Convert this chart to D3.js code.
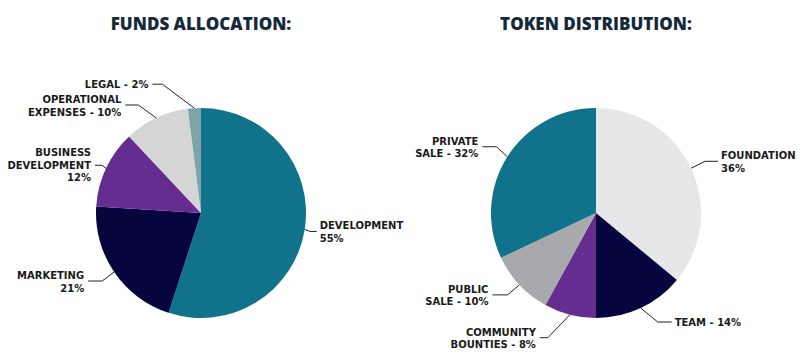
<!DOCTYPE html>
<html><head><meta charset="utf-8">
<script src="https://cdn.jsdelivr.net/npm/d3@7"></script>
<style>
html,body{margin:0;padding:0;background:#fff;}
svg{display:block;}
</style></head>
<body><svg id="chart" width="810" height="358"></svg>
<script>
// ---- data ----
const fundsTitle = "FUNDS ALLOCATION:";
const fundsCategories = ["Development", "Marketing", "Business Development", "Operational Expenses", "Legal"];
const fundsValues = [55, 21, 12, 10, 2];
const fundsLabelLines = [["DEVELOPMENT", "{v}%"], ["MARKETING", "{v}%"], ["BUSINESS", "DEVELOPMENT", "{v}%"], ["OPERATIONAL", "EXPENSES - {v}%"], ["LEGAL - {v}%"]];

const tokenTitle = "TOKEN DISTRIBUTION:";
const tokenCategories = ["Foundation", "Team", "Community Bounties", "Public Sale", "Private Sale"];
const tokenValues = [36, 14, 8, 10, 32];
const tokenLabelLines = [["FOUNDATION", "{v}%"], ["TEAM - {v}%"], ["COMMUNITY", "BOUNTIES - {v}%"], ["PUBLIC", "SALE - {v}%"], ["PRIVATE", "SALE - {v}%"]];

// ---- styling / layout ----
const fundsColors = ["#11728c", "#07053e", "#652d90", "#d5d5d5", "#7ea4a9"];
const tokenColors = ["#e6e7e8", "#07053e", "#652d90", "#a7a9ac", "#11728c"];
// leader layout: elbow offset from slice edge point, horizontal run length (signed)
const fundsLeader = [
  {ex: 5, ey: 2, h: 7}, {ex: -12, ey: 9, h: -14}, {ex: -4, ey: -3, h: -7},
  {ex: -18, ey: -13, h: -13}, {ex: -32, ey: -24, h: -10}
];
const tokenLeader = [
  {ex: 14, ey: -7, h: 13}, {ex: 17, ey: 14, h: 14}, {ex: -22, ey: 23, h: -8},
  {ex: -12, ey: 10, h: -15}, {ex: -11, ey: -10, h: -14}
];

const svg = d3.select("#chart");
const R = 105;
const lineH = 12.5;

function drawPie(cx, cy, title, cats, vals, lines, colors, leader) {
  const g = svg.append("g").attr("transform", `translate(${cx},${cy})`);
  svg.append("text").attr("x", cx).attr("y", 30).attr("text-anchor", "middle")
    .attr("font-family", "'Open Sans', sans-serif").attr("font-weight", 800)
    .attr("font-size", 17).attr("fill", "#15293a").text(title);

  const data = cats.map((c, i) => ({name: c, value: vals[i], lines: lines[i], color: colors[i], lay: leader[i]}));
  const pie = d3.pie().sort(null).value(d => d.value);
  const arc = d3.arc().innerRadius(0).outerRadius(R);
  const arcs = pie(data);

  g.selectAll("path.slice").data(arcs).join("path").attr("class", "slice")
    .attr("d", arc).attr("fill", d => d.data.color);

  arcs.forEach(a => {
    const mid = (a.startAngle + a.endAngle) / 2;
    const p0 = [R * Math.sin(mid), -R * Math.cos(mid)];
    const L = a.data.lay;
    const p1 = [p0[0] + L.ex, p0[1] + L.ey];
    const p2 = [p1[0] + L.h, p1[1]];
    g.append("path").attr("d", d3.line()([p0, p1, p2]))
      .attr("fill", "none").attr("stroke", "#222").attr("stroke-width", 1);
    const right = L.h > 0;
    const tx = p2[0] + (right ? 3 : -4);
    const ls = a.data.lines.map(s => s.replace("{v}", a.data.value));
    let b0;
    if (ls.length === 1) b0 = p2[1] + 3.5;
    else if (ls.length === 2) b0 = p2[1] - 2;
    else b0 = p2[1] + 3.5 - lineH;
    const t = g.append("text").attr("font-family", "'DejaVu Sans', sans-serif")
      .attr("font-weight", 700).attr("font-size", 10).attr("fill", "#1a1a1a")
      .attr("text-anchor", right ? "start" : "end");
    ls.forEach((s, i) => {
      t.append("tspan").attr("x", tx).attr("y", b0 + i * lineH).text(s);
    });
  });
}

drawPie(201, 213, fundsTitle, fundsCategories, fundsValues, fundsLabelLines, fundsColors, fundsLeader);
drawPie(596, 213, tokenTitle, tokenCategories, tokenValues, tokenLabelLines, tokenColors, tokenLeader);
</script>
</body></html>
